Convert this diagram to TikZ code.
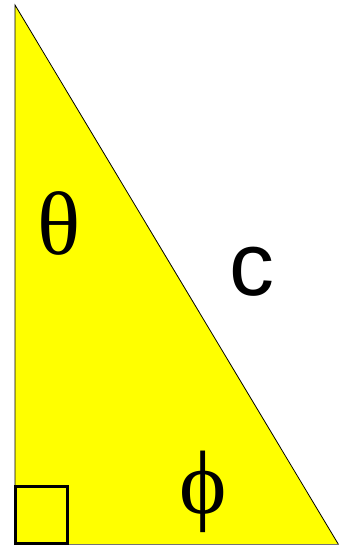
\documentclass[tikz,border=0pt]{standalone}
\usepackage{fontspec}
\setmainfont{Liberation Serif}
\newfontfamily\lsans{Liberation Sans}
\definecolor{pureyellow}{RGB}{255,255,0}
\begin{document}
\begin{tikzpicture}[x=1pt,y=-1pt,
  lab/.style={inner sep=0pt,anchor=center,font=\fontsize{90}{90}\selectfont}]
\useasboundingbox (0,0) rectangle (339,547);
\coordinate (A) at (15,5);
\coordinate (B) at (15,544.5);
\coordinate (C) at (338.5,544.5);
\fill[pureyellow] (A) -- (B) -- (C) -- cycle;
\draw[line width=0.8pt] (C) -- (A) -- (B);
\draw[line width=1.2pt,black!55] (B) -- (C);
\draw[line width=3pt] (15.5,486) rectangle (67,543.5);
\node[lab] (theta) at (59,223.5) {θ};
\node[lab,font=\fontsize{90}{90}\lsans] (c) at (252,271.5) {c};
\node[lab] (phi) at (203,491.5) {ϕ};
\end{tikzpicture}
\end{document}
